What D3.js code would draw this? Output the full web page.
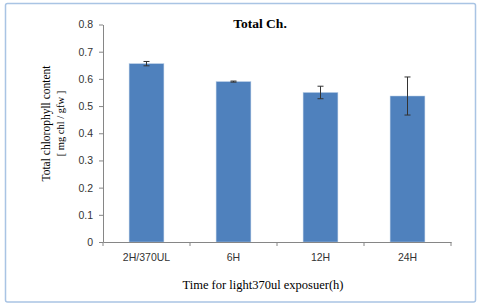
<!DOCTYPE html>
<html>
<head>
<meta charset="utf-8">
<script src="https://cdn.jsdelivr.net/npm/d3@7"></script>
<style>
  body { margin: 0; background: #fff; }
</style>
</head>
<body>
<div id="chart"></div>
<script>
// chart data
const categories = ['2H/370UL', '6H', '12H', '24H'];
const values = [0.656, 0.590, 0.550, 0.537];
const errors = [0.008, 0.002, 0.023, 0.070];
const yTicks = [0, 0.1, 0.2, 0.3, 0.4, 0.5, 0.6, 0.7, 0.8];

const width = 480, height = 307;
const margin = { top: 24.5, right: 29, bottom: 65, left: 103 };

const svg = d3.select('#chart').append('svg')
  .attr('width', width)
  .attr('height', height);

// outer frame
svg.append('rect')
  .attr('x', 5.5).attr('y', 3.5)
  .attr('width', 470).attr('height', 298.5)
  .attr('rx', 2)
  .style('fill', '#fff')
  .style('stroke', '#a9c4e4')
  .style('stroke-width', 1.5);

const x = d3.scaleBand()
  .domain(categories)
  .range([margin.left, width - margin.right])
  .paddingInner(0.6)
  .paddingOuter(0.3);

const y = d3.scaleLinear()
  .domain([0, 0.8])
  .range([height - margin.bottom, margin.top]);

// bars
svg.selectAll('rect.bar')
  .data(values)
  .enter().append('rect')
  .attr('class', 'bar')
  .attr('x', (d, i) => x(categories[i]))
  .attr('y', d => y(d))
  .attr('width', x.bandwidth())
  .attr('height', d => y(0) - y(d))
  .style('fill', '#4f81bd')
  .style('stroke', '#b9cde5')
  .style('stroke-width', 0.5);

// error bars
const eb = svg.selectAll('g.err')
  .data(values)
  .enter().append('g')
  .attr('class', 'err')
  .style('stroke', '#333')
  .style('stroke-width', 1);

eb.append('line')
  .attr('x1', (d, i) => x(categories[i]) + x.bandwidth() / 2)
  .attr('x2', (d, i) => x(categories[i]) + x.bandwidth() / 2)
  .attr('y1', (d, i) => y(d + errors[i]))
  .attr('y2', (d, i) => y(d - errors[i]));
eb.append('line')
  .attr('x1', (d, i) => x(categories[i]) + x.bandwidth() / 2 - 3)
  .attr('x2', (d, i) => x(categories[i]) + x.bandwidth() / 2 + 3)
  .attr('y1', (d, i) => y(d + errors[i]))
  .attr('y2', (d, i) => y(d + errors[i]));
eb.append('line')
  .attr('x1', (d, i) => x(categories[i]) + x.bandwidth() / 2 - 3)
  .attr('x2', (d, i) => x(categories[i]) + x.bandwidth() / 2 + 3)
  .attr('y1', (d, i) => y(d - errors[i]))
  .attr('y2', (d, i) => y(d - errors[i]));

// y axis
const yAxis = svg.append('g')
  .attr('transform', `translate(${margin.left},0)`)
  .call(d3.axisLeft(y).tickValues(yTicks).tickSize(4).tickSizeOuter(0)
    .tickFormat(d => d === 0 ? '0' : d3.format('.1f')(d)));

// x axis with ticks between categories
const xAxis = svg.append('g')
  .attr('transform', `translate(0,${y(0)})`)
  .call(d3.axisBottom(x).tickSize(0).tickSizeOuter(0));
xAxis.selectAll('text').attr('dy', '1.55em');
xAxis.selectAll('line.sep')
  .data(d3.range(categories.length + 1))
  .enter().append('line')
  .attr('class', 'sep')
  .attr('x1', i => x.range()[0] + i * x.step())
  .attr('x2', i => x.range()[0] + i * x.step())
  .attr('y1', 0).attr('y2', 4);

[yAxis, xAxis].forEach(g => {
  g.selectAll('path, line').style('stroke', '#868686');
  g.selectAll('text')
    .style('font-family', '"Liberation Sans", Arial, sans-serif')
    .style('font-size', '10.5px')
    .style('fill', '#333');
});
yAxis.selectAll('text').attr('x', -10);

// title
svg.append('text')
  .attr('x', 260).attr('y', 28)
  .attr('text-anchor', 'middle')
  .style('font-family', '"Liberation Serif", "Times New Roman", serif')
  .style('font-weight', 'bold')
  .style('font-size', '13.5px')
  .text('Total Ch.');

// y axis title
const yt = svg.append('text')
  .attr('transform', 'translate(50,123.5) rotate(-90)')
  .attr('text-anchor', 'middle')
  .style('font-family', '"Liberation Serif", "Times New Roman", serif');
yt.append('tspan').attr('x', 0).attr('y', 0)
  .style('font-size', '11.5px')
  .text('Total chlorophyll content');
yt.append('tspan').attr('x', 0).attr('y', 14)
  .style('font-size', '10.5px')
  .text('[ mg chl / gfw ]');

// x axis title
svg.append('text')
  .attr('x', 263).attr('y', 289)
  .attr('text-anchor', 'middle')
  .style('font-family', '"Liberation Serif", "Times New Roman", serif')
  .style('font-size', '12.5px')
  .text('Time for light370ul exposuer(h)');
</script>
</body>
</html>
